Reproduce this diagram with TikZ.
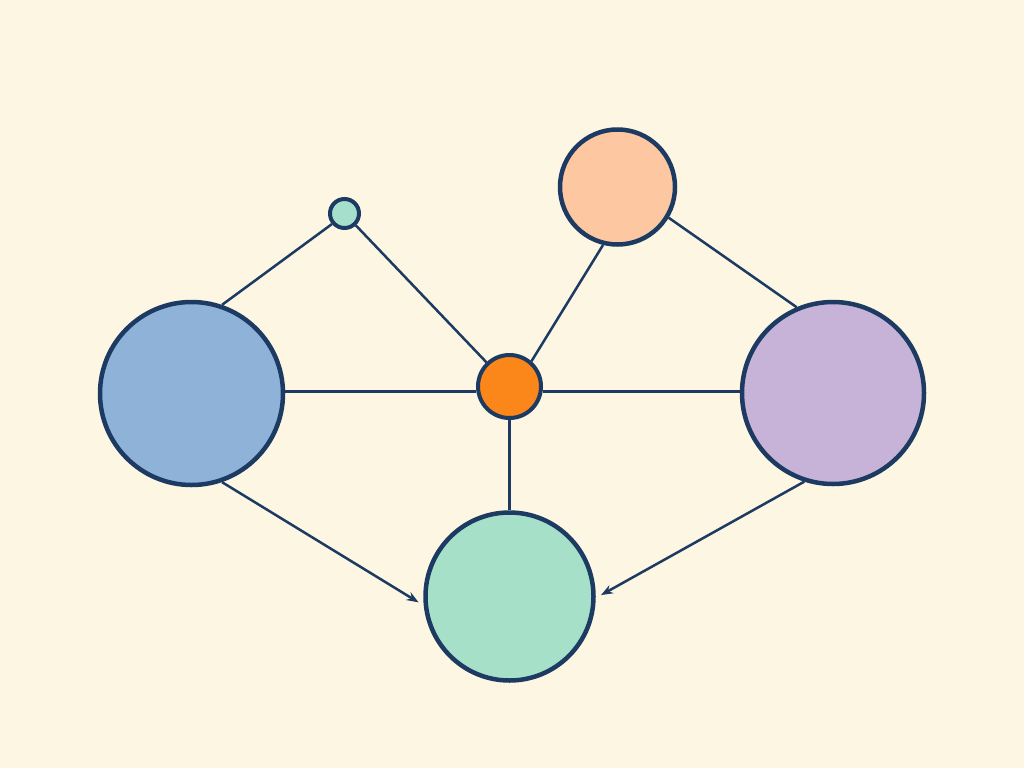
\documentclass[tikz,border=0pt]{standalone}
\usetikzlibrary{arrows.meta}
\definecolor{bg}{HTML}{FDF6E2}
\definecolor{navy}{HTML}{1C3A62}
\definecolor{cblue}{HTML}{8FB2D8}
\definecolor{cpurple}{HTML}{C8B3D8}
\definecolor{cgreen}{HTML}{A6E0C9}
\definecolor{cpeach}{HTML}{FCC7A1}
\definecolor{corange}{HTML}{FB8619}
\definecolor{cteal}{HTML}{A6E0CC}
\begin{document}
\begin{tikzpicture}[x=1pt,y=-1pt,
  ball/.style={circle,draw=navy,line width=4.5pt,inner sep=0pt},
  edge/.style={draw=navy,line width=2.5pt},
  arr/.style={edge,-{Stealth[length=12pt,width=9pt]},shorten >=6pt}]
\fill[bg] (0,0) rectangle (1024,768);
\useasboundingbox (0,0) rectangle (1024,768);
\node[ball,fill=cblue,minimum size=183pt] (blue) at (191.5,393.5) {};
\node[ball,fill=cpurple,minimum size=182pt] (purple) at (833,393) {};
\node[ball,fill=cgreen,minimum size=168pt] (green) at (509.5,596.5) {};
\node[ball,fill=cpeach,minimum size=115pt] (peach) at (617.5,187) {};
\node[ball,fill=corange,minimum size=63pt,line width=4pt] (orange) at (509.5,386.5) {};
\node[ball,fill=cteal,minimum size=29pt,line width=4pt] (teal) at (344.5,213.5) {};
\draw[edge] (blue.71) -- (teal.220);
\draw[edge] (teal) -- (orange);
\draw[edge] (peach.256) -- (orange.49);
\draw[edge] (peach.-31) -- (purple.113);
\draw[edge] (blue.east |- orange.189) -- (orange.189);
\draw[edge] (orange.-9) -- (purple.west |- orange.-9);
\draw[edge] (orange.south) -- (green.north);
\draw[arr] (blue.-71) -- (green.186);
\draw[arr] (purple.-108) -- (green.-1);
\end{tikzpicture}
\end{document}
